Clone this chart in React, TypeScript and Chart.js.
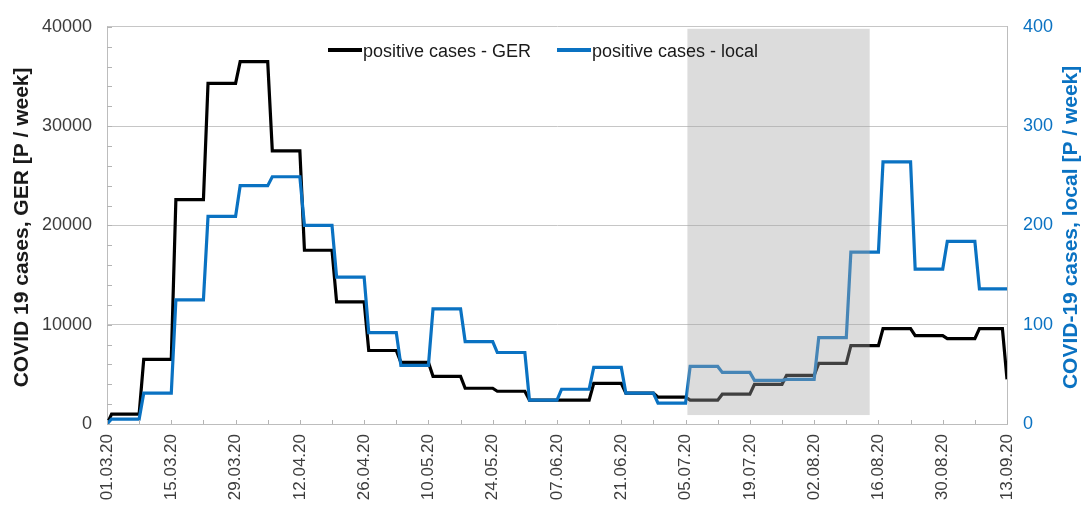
import React, { useEffect, useRef } from 'react';
import { Chart, registerables } from 'chart.js';

Chart.register(...registerables);

// x axis: days since 01.03.20, labelled every 14 days
const tickLabels = [
  '01.03.20', '15.03.20', '29.03.20', '12.04.20', '26.04.20', '10.05.20', '24.05.20', '07.06.20',
  '21.06.20', '05.07.20', '19.07.20', '02.08.20', '16.08.20', '30.08.20', '13.09.20',
];
const totalDays = 196;

// weekly positive cases (each value holds for one week)
const gerWeekly = [
  1000, 6500, 22600, 34300, 36500, 27500, 17500, 12300, 7400, 6200, 4800, 3600, 3300, 2400,
  2400, 4100, 3100, 2700, 2400, 3000, 4000, 4900, 6100, 7900, 9600, 8900, 8600, 9600,
];
const localWeekly = [
  5, 31, 125, 209, 240, 249, 200, 148, 92, 59, 116, 83, 72, 24,
  35, 57, 31, 21, 58, 52, 44, 45, 87, 173, 264, 156, 184, 136,
];
const gerStart = 0;
const localStart = 0;
const gerLast = 4500;
const localLast = 136;

// shaded period (days) and its vertical extent on the left axis
const shadeFrom = 126.4;
const shadeTo = 166.1;
const shadeLow = 900;
const shadeHigh = 39800;

const BLUE = '#0a72c2';
const FONT = "'Liberation Sans', Arial, Helvetica, sans-serif";

function buildSeries(start: number, weekly: number[], last: number) {
  const pts: { x: number; y: number }[] = [{ x: 0, y: start }];
  weekly.forEach((v, i) => {
    pts.push({ x: 7 * i + 1, y: v });
    pts.push({ x: Math.min(7 * i + 7, totalDays - 1), y: v });
  });
  pts.push({ x: totalDays, y: last });
  return pts;
}

const overlayPlugin = {
  id: 'overlayPlugin',
  afterDatasetsDraw(chart: any) {
    const { ctx, chartArea, scales } = chart;
    const x = scales.x;
    const y = scales.y;
    ctx.save();
    // inward minor ticks
    ctx.strokeStyle = '#b4b4b4';
    ctx.lineWidth = 1;
    ctx.beginPath();
    for (let v = 0; v <= 40000; v += 2000) {
      const py = Math.round(y.getPixelForValue(v)) + 0.5;
      ctx.moveTo(chartArea.left, py);
      ctx.lineTo(chartArea.left + 5, py);
    }
    for (let d = 0; d <= totalDays; d += 7) {
      const px = Math.round(x.getPixelForValue(d)) + 0.5;
      ctx.moveTo(px, chartArea.bottom);
      ctx.lineTo(px, chartArea.bottom - 4);
    }
    ctx.stroke();
    // translucent shaded period
    const x0 = x.getPixelForValue(shadeFrom);
    const x1 = x.getPixelForValue(shadeTo);
    const yTop = y.getPixelForValue(shadeHigh);
    const yBot = y.getPixelForValue(shadeLow);
    ctx.fillStyle = 'rgba(164,164,164,0.39)';
    ctx.fillRect(x0, yTop, x1 - x0, yBot - yTop);
    ctx.restore();
  },
  afterDraw(chart: any) {
    const { ctx, chartArea } = chart;
    const cy = (chartArea.top + chartArea.bottom) / 2 + 2;
    ctx.save();
    // axis titles (both read bottom to top)
    ctx.font = `bold 21px ${FONT}`;
    ctx.textAlign = 'center';
    ctx.textBaseline = 'middle';
    ctx.fillStyle = '#1a1a1a';
    ctx.save();
    ctx.translate(22, cy);
    ctx.rotate(-Math.PI / 2);
    ctx.fillText('COVID 19 cases, GER [P / week]', 0, 0);
    ctx.restore();
    ctx.fillStyle = BLUE;
    ctx.save();
    ctx.translate(1071, cy);
    ctx.rotate(-Math.PI / 2);
    ctx.fillText('COVID-19 cases, local [P / week]', 0, 0);
    ctx.restore();
    // legend
    ctx.font = `18px ${FONT}`;
    ctx.textAlign = 'left';
    ctx.textBaseline = 'alphabetic';
    const items = [
      { label: 'positive cases - GER', color: '#000000', x: 328 },
      { label: 'positive cases - local', color: BLUE, x: 557 },
    ];
    items.forEach((it) => {
      ctx.strokeStyle = it.color;
      ctx.lineWidth = 4;
      ctx.beginPath();
      ctx.moveTo(it.x, 50);
      ctx.lineTo(it.x + 34, 50);
      ctx.stroke();
      ctx.fillStyle = '#1a1a1a';
      ctx.fillText(it.label, it.x + 35, 57);
    });
    ctx.restore();
  },
};

export default function App() {
  const ref = useRef<HTMLCanvasElement | null>(null);
  useEffect(() => {
    if (!ref.current) return;
    const chart = new Chart(ref.current, {
      type: 'line',
      data: {
        datasets: [
          {
            label: 'positive cases - local',
            data: buildSeries(localStart, localWeekly, localLast),
            borderColor: BLUE,
            backgroundColor: BLUE,
            borderWidth: 3.2,
            pointRadius: 0,
            tension: 0,
            yAxisID: 'y1',
            order: 0,
          },
          {
            label: 'positive cases - GER',
            data: buildSeries(gerStart, gerWeekly, gerLast),
            borderColor: '#000000',
            backgroundColor: '#000000',
            borderWidth: 3.2,
            pointRadius: 0,
            tension: 0,
            yAxisID: 'y',
            order: 1,
          },
        ],
      },
      options: {
        responsive: false,
        animation: false,
        layout: { padding: { top: 24, left: 0, right: 0, bottom: 0 } },
        plugins: { legend: { display: false }, tooltip: { enabled: false } },
        scales: {
          x: {
            type: 'linear',
            min: 0,
            max: totalDays,
            grid: { display: false, drawTicks: false },
            border: { display: true, color: '#bdbdbd' },
            ticks: {
              stepSize: 14,
              autoSkip: false,
              maxRotation: 90,
              minRotation: 90,
              padding: 10,
              color: '#3c3c3c',
              font: { family: FONT, size: 17 },
              callback: (v: any) => tickLabels[Math.round(Number(v) / 14)] ?? '',
            },
            afterFit: (s: any) => { s.height = 84; },
          },
          y: {
            position: 'left',
            min: 0,
            max: 40000,
            grid: { color: '#c6c6c6', drawTicks: false },
            border: { display: true, color: '#bdbdbd' },
            ticks: {
              stepSize: 10000,
              padding: 15,
              color: '#3c3c3c',
              font: { family: FONT, size: 18 },
              callback: (v: any) => String(v),
            },
            afterFit: (s: any) => { s.width = 107; },
          },
          y1: {
            position: 'right',
            min: 0,
            max: 400,
            grid: { drawOnChartArea: false, drawTicks: false },
            border: { display: true, color: '#bdbdbd' },
            ticks: {
              stepSize: 100,
              padding: 16,
              color: BLUE,
              font: { family: FONT, size: 18 },
              callback: (v: any) => String(v),
            },
            afterFit: (s: any) => { s.width = 76; },
          },
        },
      },
      plugins: [overlayPlugin],
    });
    return () => chart.destroy();
  }, []);
  return (
    <div style={{ position: 'absolute', left: 0, top: 0, width: 1083, height: 508, background: '#fff' }}>
      <canvas ref={ref} width={1083} height={508} />
    </div>
  );
}
